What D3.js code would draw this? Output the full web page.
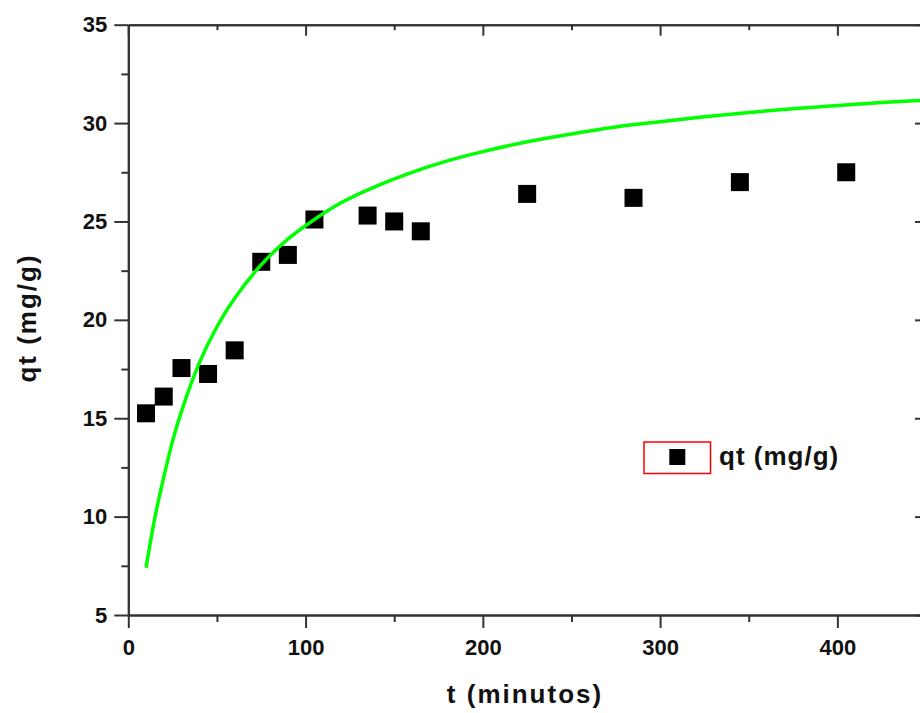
<!DOCTYPE html>
<html>
<head>
<meta charset="utf-8">
<script src="https://cdn.jsdelivr.net/npm/d3@7"></script>
<style>
  body { margin: 0; background: #fff; }
  svg { display: block; }
  text { font-family: "Liberation Sans", Arial, sans-serif; font-weight: bold; fill: #111; }
</style>
</head>
<body>
<svg id="chart" width="920" height="713"></svg>
<script>
'use strict'

// measured points (t in minutes, qt in mg/g)
const times = [10, 20, 30, 45, 60, 75, 90, 105, 135, 150, 165, 225, 285, 345, 405]
const qt = [15.25, 16.1, 17.55, 17.25, 18.45, 22.95, 23.3, 25.1, 25.3, 25.0, 24.5, 26.4, 26.2, 27.0, 27.5]

// green curve
const fitT = [10, 15, 20, 25, 30, 40, 50, 60, 75, 90, 105, 120, 140, 160, 180, 200, 225, 250, 275, 300, 325, 350, 375, 400, 425, 450]
const fitQ = [7.4, 9.95, 12.0, 13.85, 15.35, 17.8, 19.65, 21.1, 22.8, 24.1, 25.1, 25.95, 26.8, 27.5, 28.08, 28.55, 29.05, 29.45, 29.8, 30.07, 30.32, 30.54, 30.73, 30.89, 31.04, 31.17]

const xTicks = [0, 100, 200, 300, 400]
const xMinor = [50, 150, 250, 350]
const yTicks = [5, 10, 15, 20, 25, 30, 35]
const yMinor = [7.5, 12.5, 17.5, 22.5, 27.5, 32.5]

const legendLabel = 'qt (mg/g)'
const xTitle = 't (minutos)'
const yTitle = 'qt (mg/g)'

const svg = d3.select('#chart')
const plotLeft = 128.3, plotRight = 926, plotTop = 24.7, plotBottom = 615

const x = d3.scaleLinear().domain([0, 450]).range([plotLeft, plotRight])
const y = d3.scaleLinear().domain([5, 35]).range([plotBottom, plotTop])

function styleAxis (g) {
  g.select('.domain').attr('stroke', '#333').attr('stroke-width', 2)
  g.selectAll('.tick line').attr('stroke', '#333').attr('stroke-width', 2)
  g.selectAll('.tick text').style('font-size', '22px')
}

// bottom axis
svg.append('g')
  .attr('transform', `translate(0,${plotBottom})`)
  .call(d3.axisBottom(x).tickValues(xMinor).tickSize(7).tickSizeOuter(0).tickFormat(''))
  .call(styleAxis)
svg.append('g')
  .attr('transform', `translate(0,${plotBottom})`)
  .call(d3.axisBottom(x).tickValues(xTicks).tickSize(13).tickSizeOuter(0))
  .call(styleAxis)
  .call(g => g.selectAll('.tick text').attr('y', 40).attr('dy', 0))

// top axis, ticks inward
svg.append('g')
  .attr('transform', `translate(0,${plotTop})`)
  .call(d3.axisTop(x).tickValues(xMinor).tickSize(-5.5).tickSizeOuter(0).tickFormat(''))
  .call(styleAxis)
svg.append('g')
  .attr('transform', `translate(0,${plotTop})`)
  .call(d3.axisTop(x).tickValues(xTicks).tickSize(-11).tickSizeOuter(0).tickFormat(''))
  .call(styleAxis)

// left axis
svg.append('g')
  .attr('transform', `translate(${plotLeft},0)`)
  .call(d3.axisLeft(y).tickValues(yMinor).tickSize(7).tickSizeOuter(0).tickFormat(''))
  .call(styleAxis)
svg.append('g')
  .attr('transform', `translate(${plotLeft},0)`)
  .call(d3.axisLeft(y).tickValues(yTicks).tickSize(14).tickPadding(7).tickSizeOuter(0))
  .call(styleAxis)

// right axis (sits just past the edge)
svg.append('g')
  .attr('transform', `translate(${plotRight},0)`)
  .call(d3.axisRight(y).tickValues(yTicks).tickSize(-11).tickSizeOuter(0).tickFormat(''))
  .call(styleAxis)

// data squares
const sq = 18
svg.append('g')
  .selectAll('rect')
  .data(times.map((t, i) => [t, qt[i]]))
  .join('rect')
  .attr('x', d => x(d[0]) - sq / 2)
  .attr('y', d => y(d[1]) - sq / 2)
  .attr('width', sq)
  .attr('height', sq)
  .attr('fill', '#000')

// fitted curve
const line = d3.line()
  .x(d => x(d[0]))
  .y(d => y(d[1]))
  .curve(d3.curveCatmullRom)

svg.append('path')
  .datum(fitT.map((t, i) => [t, fitQ[i]]))
  .attr('d', line)
  .attr('fill', 'none')
  .attr('stroke', '#00ff00')
  .attr('stroke-width', 3.5)

// legend
const legend = svg.append('g').attr('transform', 'translate(644,442)')
legend.append('rect')
  .attr('width', 66.5).attr('height', 31.5)
  .attr('fill', '#fff').attr('stroke', '#ff0000').attr('stroke-width', 1.5)
legend.append('rect')
  .attr('x', 33.3 - 8).attr('y', 15 - 8).attr('width', 16).attr('height', 16)
  .attr('fill', '#000')
legend.append('text')
  .attr('x', 75).attr('y', 23)
  .style('font-size', '26px').style('letter-spacing', '1px')
  .text(legendLabel)

// axis titles
svg.append('text')
  .attr('x', 525).attr('y', 703)
  .attr('text-anchor', 'middle')
  .style('font-size', '26px').style('letter-spacing', '2px')
  .text(xTitle)

svg.append('text')
  .attr('transform', 'translate(36,318) rotate(-90)')
  .attr('text-anchor', 'middle')
  .style('font-size', '26px').style('letter-spacing', '2px')
  .text(yTitle)
</script>
</body>
</html>
